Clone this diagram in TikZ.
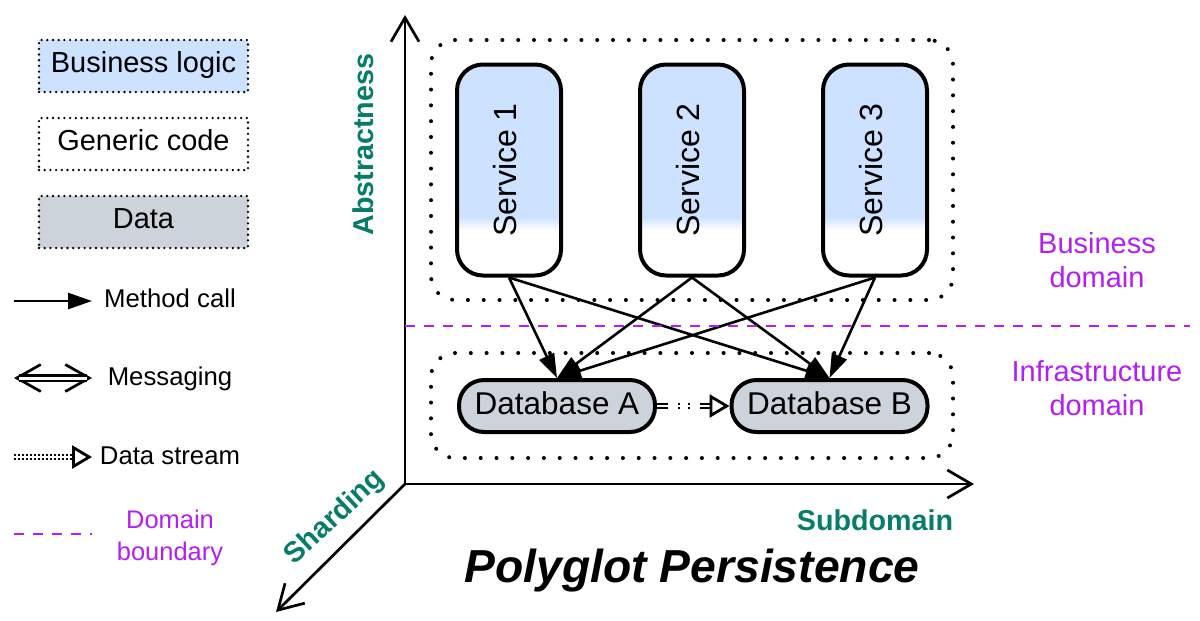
\documentclass[tikz,border=0pt]{standalone}
\usepackage{fontspec}
\usepackage{graphicx}
\setmainfont{Liberation Sans}
\usetikzlibrary{arrows.meta}
\definecolor{bizblue}{HTML}{CCE2FF}
\definecolor{datagray}{HTML}{CDD3DB}
\definecolor{axisgreen}{HTML}{067D68}
\definecolor{domainpurple}{HTML}{B51DF5}
\def\px{0.025cm}
\newcommand{\svclabel}[1]{\rotatebox{90}{\smash{\raisebox{-5.3pt}{#1}}}}
\pgfdeclareverticalshading{svcfade}{100bp}{color(0bp)=(white); color(35.8bp)=(white); color(38.9bp)=(bizblue); color(100bp)=(bizblue)}
\tikzset{
  legendbox/.style={draw=black, line width=2.6*\px, dash pattern=on 0pt off 5.7*\px, line cap=round, minimum width=209*\px, minimum height=52*\px, inner sep=0pt, text height=20*\px, text depth=7*\px, font=\fontsize{20.6}{24}\selectfont},
  groupbox/.style={draw=black, line width=4*\px, dash pattern=on 0pt off 15.8*\px, line cap=round, minimum width=522*\px, rounded corners=24*\px, inner sep=0pt},
  servicebox/.style={draw=black, line width=4*\px, shade, shading=svcfade, minimum width=104*\px, minimum height=211*\px, rounded corners=26*\px, inner sep=0pt, font=\fontsize{22.8}{26}\selectfont},
  databox/.style={draw=black, line width=4*\px, fill=datagray, minimum width=196*\px, minimum height=52*\px, rounded corners=25*\px, inner sep=0pt, text height=22*\px, text depth=5*\px, font=\fontsize{22.4}{26}\selectfont},
  callarrow/.style={line width=2.6*\px, -{Triangle[length=24*\px, width=16*\px]}},
  axisarrow/.style={line width=2.7*\px, -{Straight Barb[length=24*\px, width=28*\px, line width=2.7*\px]}},
  msgbarbs/.style={line width=0.2*\px, {Straight Barb[length=24*\px, width=27*\px, line width=2.7*\px]}-{Straight Barb[length=24*\px, width=27*\px, line width=2.7*\px]}},
  msgline/.style={line width=2.3*\px, double, double distance=3*\px, shorten >=5*\px, shorten <=5*\px},
  streamtip/.style={-{Triangle[open, fill=white, length=20*\px, width=23*\px, line width=2.8*\px]}},
  boundary/.style={draw=domainpurple, line width=2.5*\px, dash pattern=on 9.5*\px off 9.5*\px},
  legendtext/.style={inner sep=0pt, font=\fontsize{18.3}{22}\selectfont},
  purpletext/.style={inner sep=0pt, align=center, text=domainpurple, font=\fontsize{20.6}{24.5}\selectfont},
  axislabel/.style={inner sep=0pt, text=axisgreen, font=\fontsize{20.4}{24}\selectfont\bfseries},
}
\begin{document}
\begin{tikzpicture}[x=\px, y=-\px]
  \useasboundingbox (0,0) rectangle (1200,620);

  \node[legendbox, fill=bizblue] (businesslogic) at (143.5,66) {Business logic};
  \node[legendbox] (genericcode) at (143.5,144) {Generic code};
  \node[legendbox, fill=datagray] (datakey) at (143.5,222) {Data};

  \coordinate (callstart) at (14,301);
  \coordinate (callend) at (92,301);
  \draw[callarrow] (callstart) -- (callend);
  \node[legendtext] (methodcall) at (170,298.5) {Method call};
  \coordinate (msgstart) at (14,378);
  \coordinate (msgend) at (92,378);
  \draw[msgbarbs] (msgstart) -- (msgend);
  \draw[msgline] (msgstart) -- (msgend);
  \node[legendtext] (messaging) at (170,378.5) {Messaging};
  \coordinate (streamstart) at (14,457);
  \coordinate (streamend) at (92,457);
  \draw[streamtip, line width=1.6*\px, double, double distance=2.4*\px, dash pattern=on 1.8*\px off 2.2*\px] (streamstart) -- (streamend);
  \node[legendtext] (datastream) at (170,456) {Data stream};
  \coordinate (boundstart) at (14,534);
  \coordinate (boundend) at (92,534);
  \draw[boundary] (boundstart) -- (boundend);
  \node[purpletext, font=\fontsize{18.1}{22.8}\selectfont] (domainkey) at (170,538) {Domain\\boundary};

  \coordinate (origin) at (405,484);
  \coordinate (abstractend) at (405,15);
  \coordinate (subdomainend) at (974,484);
  \coordinate (shardingend) at (276,612);
  \draw[axisarrow] (origin) -- (abstractend);
  \draw[axisarrow] (origin) -- (subdomainend);
  \draw[axisarrow] (origin) -- (shardingend);
  \node[axislabel, rotate=90] (abstractness) at (363,144.5) {Abstractness};
  \node[axislabel] (subdomain) at (875,520) {Subdomain};
  \node[axislabel, rotate=43] (sharding) at (335,518) {Sharding};

  \node[groupbox, minimum height=260*\px] (businessgroup) at (692,170) {};
  \node[groupbox, minimum height=105*\px] (infragroup) at (692,405.5) {};

  \node[servicebox] (service1) at (509,170) {\svclabel{Service 1}};
  \node[servicebox] (service2) at (692,170) {\svclabel{Service 2}};
  \node[servicebox] (service3) at (875,170) {\svclabel{Service 3}};
  \node[databox] (databasea) at (557,406) {Database A};
  \node[databox] (databaseb) at (829.5,406) {Database B};

  \foreach \svc in {service1,service2,service3} {
    \draw[callarrow] (\svc.south) -- (databasea.north);
    \draw[callarrow] (\svc.south) -- (databaseb.north);
  }
  \draw[streamtip, line width=2*\px, double, double distance=2.6*\px, dash pattern=on 11*\px off 10*\px on 2*\px off 8*\px on 2*\px off 10*\px on 12*\px] (databasea) -- (databaseb);

  \coordinate (boundaryleft) at (405,326);
  \coordinate (boundaryright) at (1190,326);
  \draw[boundary] (boundaryleft) -- (boundaryright);
  \node[purpletext] (businessdomain) at (1097,260) {Business\\domain};
  \node[purpletext] (infradomain) at (1097,388) {Infrastructure\\domain};

  \node[inner sep=0pt, font=\fontsize{32.9}{38}\selectfont\bfseries\itshape] (title) at (692,571) {Polyglot Persistence};
\end{tikzpicture}
\end{document}
